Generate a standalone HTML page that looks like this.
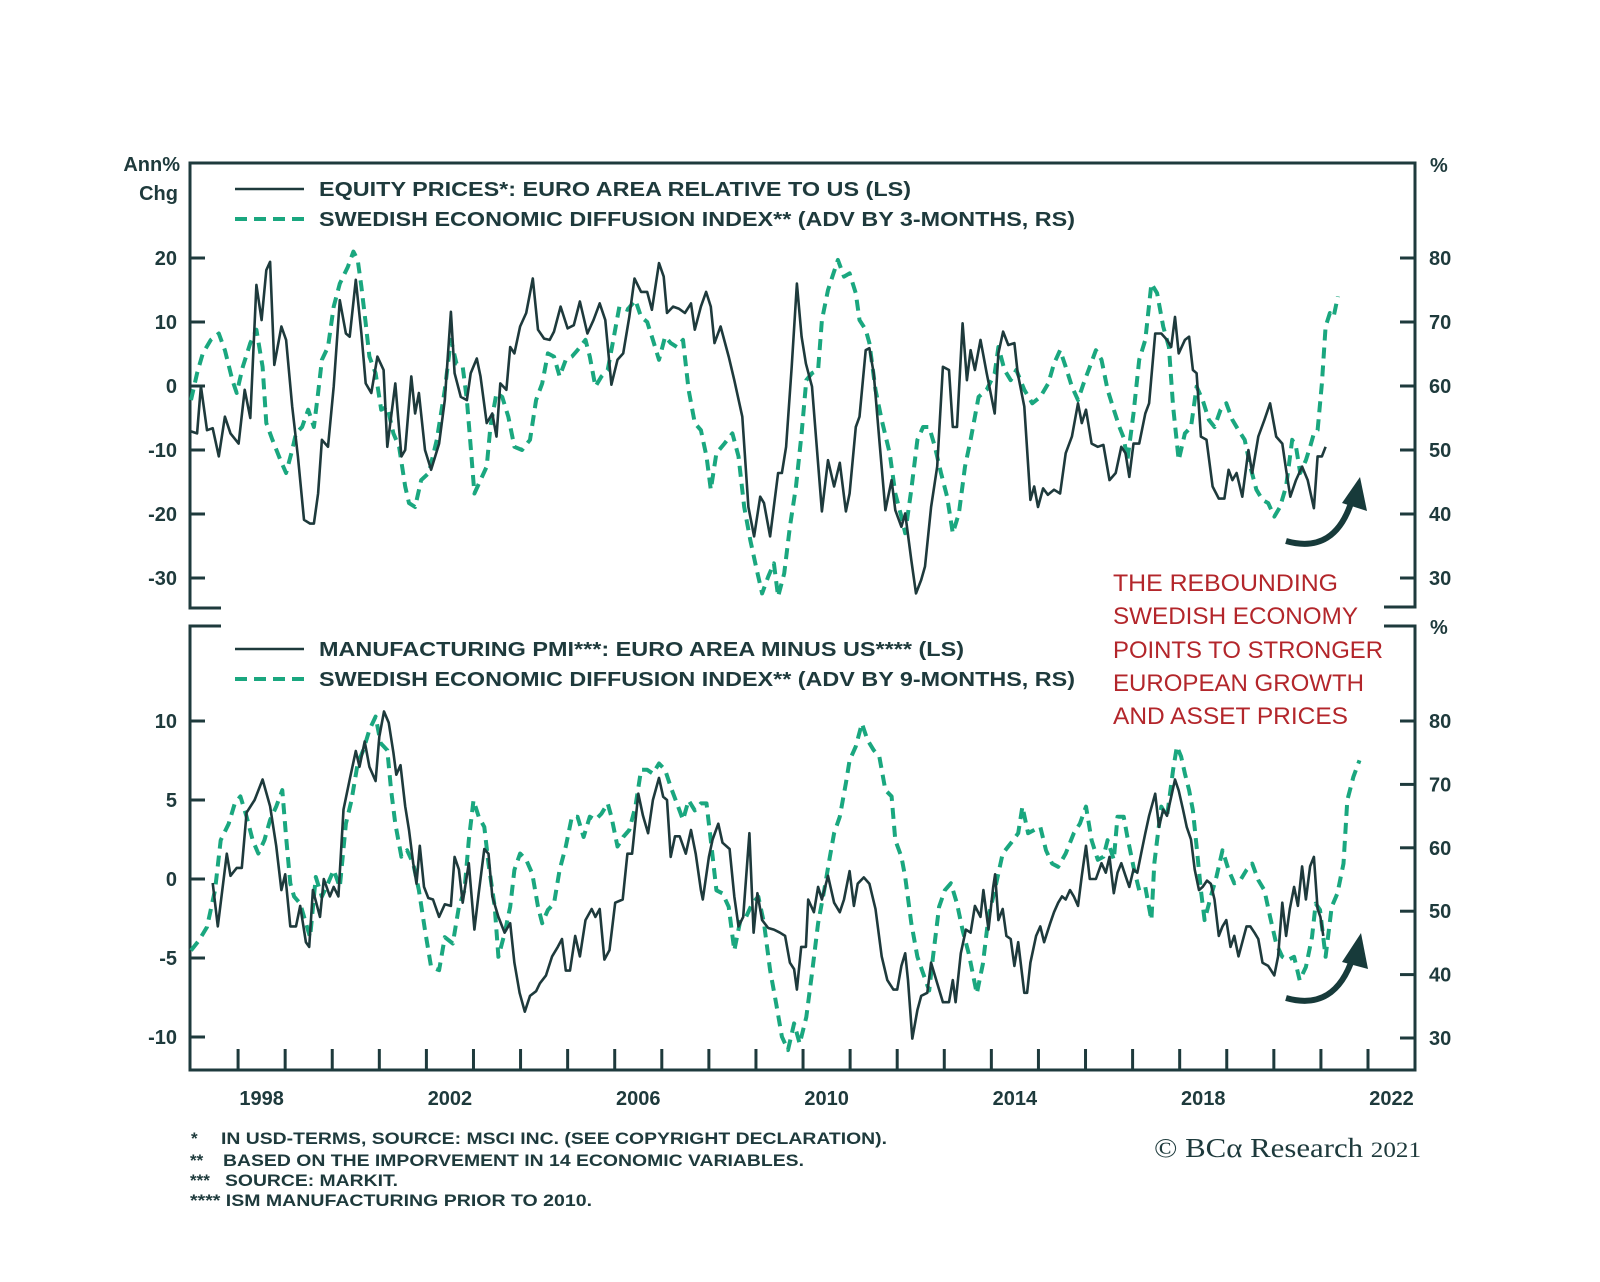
<!DOCTYPE html>
<html><head><meta charset="utf-8"><title>Swedish Economic Diffusion Index vs Euro Area</title>
<style>
html,body{margin:0;padding:0;background:#fff;}
svg{display:block;font-family:"Liberation Sans",Arial,sans-serif;}
.lbl{font-size:20px;font-weight:bold;fill:#1e3a3c;}
.leg{font-size:20px;font-weight:bold;fill:#1e3a3c;}
.note{font-size:17px;font-weight:bold;fill:#1e3a3c;}
.red{font-size:24px;fill:#b3262b;}
</style></head>
<body>
<svg id="chart" width="1600" height="1282" viewBox="0 0 1600 1282" xmlns="http://www.w3.org/2000/svg">
  <rect width="1600" height="1282" fill="#fff"/>
  <g id="frame" stroke="#1e3a3c" stroke-width="3" fill="none">
    <path d="M221,608 L190,608 L190,163 L1415,163 L1415,607 L1384,607"/>
    <path d="M221,626 L190,626 L190,1070 L1415,1070 L1415,626 L1384,626"/>
  </g>
  <g id="ticks"></g>
  <g id="labels"></g>
  <g id="series"></g>

  <text class="lbl" x="180" y="171" text-anchor="end">Ann%</text>
  <text class="lbl" x="178" y="200" text-anchor="end">Chg</text>
  <text class="lbl" x="1430" y="172">%</text>
  <text class="lbl" x="1430" y="634">%</text>

  <g>
    <line x1="235" y1="189" x2="304" y2="189" stroke="#1e3a3c" stroke-width="2.5"/>
    <text class="leg" x="319" y="196" textLength="592" lengthAdjust="spacingAndGlyphs">EQUITY PRICES*: EURO AREA RELATIVE TO US (LS)</text>
    <line x1="235" y1="219" x2="304" y2="219" stroke="#1aa77f" stroke-width="4" stroke-dasharray="12,7"/>
    <text class="leg" x="319" y="226" textLength="756" lengthAdjust="spacingAndGlyphs">SWEDISH ECONOMIC DIFFUSION INDEX** (ADV BY 3-MONTHS, RS)</text>
  </g>
  <g>
    <line x1="235" y1="649" x2="304" y2="649" stroke="#1e3a3c" stroke-width="2.5"/>
    <text class="leg" x="319" y="656" textLength="645" lengthAdjust="spacingAndGlyphs">MANUFACTURING PMI***: EURO AREA MINUS US**** (LS)</text>
    <line x1="235" y1="679" x2="304" y2="679" stroke="#1aa77f" stroke-width="4" stroke-dasharray="12,7"/>
    <text class="leg" x="319" y="686" textLength="756" lengthAdjust="spacingAndGlyphs">SWEDISH ECONOMIC DIFFUSION INDEX** (ADV BY 9-MONTHS, RS)</text>
  </g>

  <g>
    <text class="red" x="1113" y="591" textLength="225" lengthAdjust="spacingAndGlyphs">THE REBOUNDING</text>
    <text class="red" x="1113" y="624" textLength="245" lengthAdjust="spacingAndGlyphs">SWEDISH ECONOMY</text>
    <text class="red" x="1113" y="658" textLength="270" lengthAdjust="spacingAndGlyphs">POINTS TO STRONGER</text>
    <text class="red" x="1113" y="691" textLength="251" lengthAdjust="spacingAndGlyphs">EUROPEAN GROWTH</text>
    <text class="red" x="1113" y="724" textLength="235" lengthAdjust="spacingAndGlyphs">AND ASSET PRICES</text>
  </g>

  <g>
    <path d="M1286,541 Q1335,555 1352,500" stroke="#173a3a" stroke-width="6" fill="none"/>
    <polygon points="1360,477 1342,503 1367,511" fill="#173a3a"/>
  </g>
  <g>
    <path d="M1286,998 Q1335,1012 1353,957" stroke="#173a3a" stroke-width="6" fill="none"/>
    <polygon points="1361,933 1342,962 1368,969" fill="#173a3a"/>
  </g>

  <g>
    <text class="note" x="191" y="1144">*</text>
    <text class="note" x="221" y="1144" textLength="666" lengthAdjust="spacingAndGlyphs">IN USD-TERMS, SOURCE: MSCI INC. (SEE COPYRIGHT DECLARATION).</text>
    <text class="note" x="190" y="1166">**</text>
    <text class="note" x="223" y="1166" textLength="581" lengthAdjust="spacingAndGlyphs">BASED ON THE IMPORVEMENT IN 14 ECONOMIC VARIABLES.</text>
    <text class="note" x="190" y="1186">***</text>
    <text class="note" x="225" y="1186" textLength="173" lengthAdjust="spacingAndGlyphs">SOURCE: MARKIT.</text>
    <text class="note" x="190" y="1206" textLength="402" lengthAdjust="spacingAndGlyphs">**** ISM MANUFACTURING PRIOR TO 2010.</text>
  </g>
  <text x="1154" y="1157" font-family="'Liberation Serif',serif" font-size="27" fill="#1e3a3c" textLength="267" lengthAdjust="spacingAndGlyphs">© BCα Research <tspan font-size="22">2021</tspan></text>
</svg>
<script>
const years = [1998,2002,2006,2010,2014,2018,2022];
const topLeftTicks = [20,10,0,-10,-20,-30];
const topRightTicks = [80,70,60,50,40,30];
const botLeftTicks = [10,5,0,-5,-10];
const botRightTicks = [80,70,60,50,40,30];

const eqDates = [1997.00,1997.13,1997.21,1997.34,1997.46,1997.59,1997.72,1997.84,1998.01,1998.14,
1998.26,1998.39,1998.50,1998.60,1998.68,1998.77,1998.92,1999.02,1999.15,1999.27,
1999.40,1999.53,1999.61,1999.70,1999.78,1999.91,2000.03,2000.16,2000.29,2000.37,
2000.50,2000.62,2000.71,2000.83,2000.96,2001.09,2001.17,2001.34,2001.47,2001.55,
2001.68,2001.76,2001.84,2001.97,2002.10,2002.27,2002.39,2002.52,2002.60,2002.73,
2002.86,2002.94,2003.07,2003.15,2003.28,2003.40,2003.49,2003.57,2003.70,2003.78,
2003.87,2003.99,2004.12,2004.26,2004.37,2004.50,2004.62,2004.71,2004.85,2005.00,
2005.13,2005.26,2005.42,2005.55,2005.68,2005.80,2005.93,2006.06,2006.18,2006.31,
2006.42,2006.56,2006.69,2006.79,2006.94,2007.04,2007.11,2007.24,2007.36,2007.49,
2007.62,2007.70,2007.83,2007.94,2008.04,2008.12,2008.25,2008.42,2008.54,2008.71,
2008.84,2008.96,2009.09,2009.17,2009.30,2009.47,2009.55,2009.64,2009.76,2009.87,
2009.97,2010.06,2010.19,2010.28,2010.40,2010.53,2010.66,2010.78,2010.91,2010.99,
2011.12,2011.20,2011.33,2011.41,2011.50,2011.62,2011.75,2011.88,2011.96,2012.09,
2012.17,2012.30,2012.40,2012.51,2012.59,2012.72,2012.85,2012.97,2013.10,2013.18,
2013.27,2013.39,2013.48,2013.56,2013.65,2013.77,2013.90,2014.07,2014.15,2014.25,
2014.36,2014.49,2014.56,2014.70,2014.83,2014.91,2014.99,2015.10,2015.20,2015.33,
2015.46,2015.58,2015.71,2015.84,2015.92,2016.01,2016.13,2016.26,2016.38,2016.51,
2016.64,2016.76,2016.85,2016.93,2017.02,2017.14,2017.27,2017.35,2017.48,2017.61,
2017.73,2017.82,2017.90,2017.98,2018.11,2018.20,2018.28,2018.36,2018.45,2018.57,
2018.70,2018.83,2018.95,2019.04,2019.12,2019.21,2019.33,2019.46,2019.54,2019.67,
2019.80,2019.92,2020.05,2020.18,2020.26,2020.35,2020.47,2020.60,2020.72,2020.85,
2020.93,2021.02,2021.10];
const eqValues = [-7.1,-7.4,0,-6.9,-6.6,-11,-4.8,-7.4,-9,-0.6,
-5,15.8,10.3,18.1,19.4,3.3,9.3,7.2,-3.2,-11,
-20.9,-21.5,-21.5,-16.8,-8.4,-9.5,-0.1,13.4,8.2,7.7,
16.6,8.2,0.4,-1.1,4.6,2.5,-9.5,0.4,-11,-10,
1.5,-4.3,-1.1,-10,-13.1,-9,-2.2,11.6,2,-1.7,
-2.2,2,4.3,1.5,-5.8,-4.3,-7.9,0.4,-0.6,6.1,
5.1,9.3,11.4,16.8,8.8,7.4,7.2,8.5,12.4,9,
9.5,13.2,8.2,10.3,12.9,10.3,0.2,4.1,5.1,10.8,
16.8,14.7,14.7,11.9,19.2,17.1,11.4,12.4,12.1,11.4,
12.9,8.8,12.4,14.7,12.4,6.7,9.3,4.6,0.9,-4.8,
-18.9,-23.5,-17.3,-18.3,-23.5,-13.6,-13.6,-9.5,3,16,
7.7,3.5,-0.1,-8.4,-19.6,-11.6,-15.7,-12,-19.6,-16.8,
-6.4,-4.8,5.6,5.9,2,-8.4,-19.4,-14.7,-19.4,-22,
-19.9,-27.2,-32.4,-30.3,-28.2,-18.9,-12.6,3,2.5,-6.4,
-6.4,9.8,0.9,5.6,2.5,7.2,2,-4.3,5.1,8.5,
6.4,6.7,2,-3.2,-17.8,-15.7,-18.9,-16,-17,-16.2,
-16.8,-10.5,-7.9,-2.7,-5.8,-3.7,-9,-9.5,-9.2,-14.7,
-13.6,-9.5,-10.5,-14.2,-9,-9,-4.3,-2.7,8.2,8.2,
7.2,6.1,10.8,5.1,7.2,7.7,2.5,2,-7.9,-8.4,
-15.7,-17.6,-17.6,-13.1,-14.7,-13.6,-17.3,-10,-13.6,-7.9,
-5.3,-2.7,-7.9,-9,-13.1,-17.3,-14.7,-12.6,-14.7,-19.1,
-11,-11,-9.5];

const sw3Dates = [1997.00,1997.13,1997.25,1997.42,1997.59,1997.72,1997.88,1997.97,1998.10,1998.26,
1998.39,1998.52,1998.60,1998.73,1998.90,1999.02,1999.15,1999.23,1999.36,1999.49,
1999.61,1999.70,1999.78,1999.91,2000.03,2000.16,2000.33,2000.45,2000.54,2000.62,
2000.71,2000.79,2000.92,2001.04,2001.17,2001.30,2001.42,2001.55,2001.63,2001.76,
2001.89,2002.05,2002.22,2002.39,2002.52,2002.64,2002.77,2002.86,2002.94,2003.02,
2003.15,2003.28,2003.36,2003.49,2003.61,2003.74,2003.87,2004.03,2004.20,2004.33,
2004.46,2004.58,2004.71,2004.83,2004.96,2005.09,2005.21,2005.38,2005.47,2005.59,
2005.72,2005.85,2005.97,2006.10,2006.27,2006.44,2006.56,2006.69,2006.81,2006.94,
2007.07,2007.19,2007.32,2007.45,2007.57,2007.70,2007.83,2007.95,2008.04,2008.16,
2008.33,2008.50,2008.63,2008.75,2008.88,2009.00,2009.13,2009.26,2009.38,2009.47,
2009.60,2009.72,2009.85,2009.97,2010.07,2010.19,2010.32,2010.40,2010.53,2010.74,
2010.87,2010.99,2011.12,2011.20,2011.33,2011.41,2011.54,2011.67,2011.84,2011.96,
2012.09,2012.17,2012.30,2012.43,2012.55,2012.68,2012.80,2012.93,2013.06,2013.18,
2013.31,2013.44,2013.56,2013.73,2013.90,2014.07,2014.15,2014.28,2014.41,2014.53,
2014.70,2014.87,2015.04,2015.21,2015.33,2015.46,2015.58,2015.71,2015.84,2015.96,
2016.09,2016.22,2016.34,2016.47,2016.60,2016.72,2016.81,2016.89,2017.02,2017.14,
2017.27,2017.40,2017.52,2017.65,2017.77,2017.86,2017.98,2018.11,2018.24,2018.36,
2018.49,2018.62,2018.74,2018.87,2018.99,2019.12,2019.25,2019.38,2019.50,2019.63,
2019.76,2019.88,2020.01,2020.13,2020.26,2020.39,2020.47,2020.56,2020.68,2020.77,
2020.85,2020.93,2021.02,2021.10,2021.19,2021.27,2021.36];
const sw3Values = [57.8,62,65.1,67.2,68.2,65.6,60.9,58.9,63,66.7,
68.8,63,54.2,51.6,48.4,46.4,50,52.6,53.6,56.3,
53.6,58.9,64.1,66.1,72.4,76,78.6,81,79.7,75.5,
69.8,64.6,62,56.3,56.8,52.6,50.5,44.3,41.7,41.1,
45.3,46.4,51.6,59.4,67.2,63.5,63,57.8,50.5,43.2,
45.3,47.4,53.6,58.9,58.3,55.2,50.5,50,51.6,57.8,
60.4,65.1,64.6,61.5,64.1,64.6,65.6,67.2,64.6,59.9,
61.5,62.5,67.2,72.4,71.9,73.4,70.8,70,67.2,64.1,
67.7,66.7,66.1,67.2,59.4,54.2,53.1,49,43.8,49.5,
51,52.6,49,41.1,35.9,31.8,27.6,30.2,32.3,27.1,
30.7,38,44.3,52.6,60.9,62,62.5,70.3,75,79.7,
77.1,77.6,74.5,70.3,68.8,66.7,59.4,54.7,49.5,43.2,
39.6,37,43.8,51.6,53.6,53.6,50.5,46.4,42.7,37,
40.1,47.4,51.6,58.3,59.4,62,66.1,62.5,60.9,62.5,
59.4,57.3,58.3,60.4,63.5,65.6,63,59.9,57.8,60.4,
63,65.6,64.1,59.4,56.3,53.6,51.9,48.4,55.7,64.1,
67.2,76,74.5,69.3,66.1,56.8,48.4,52.6,53.6,59.9,
57.8,54.7,53.6,56.3,57.3,54.7,53.1,51.6,47.4,43.8,
42.2,41.7,39.6,41.1,44.3,51.6,50.5,46.4,48.4,50.5,
52.6,53.1,60.4,69.3,71.4,70.8,74];

const pmiDates = [1997.46,1997.57,1997.76,1997.84,1997.97,1998.08,1998.18,1998.35,1998.52,1998.68,
1998.81,1998.92,1999.00,1999.11,1999.23,1999.32,1999.44,1999.51,1999.59,1999.74,
1999.82,1999.95,2000.03,2000.13,2000.24,2000.37,2000.50,2000.58,2000.69,2000.79,
2000.92,2001.00,2001.10,2001.20,2001.30,2001.36,2001.45,2001.55,2001.63,2001.72,
2001.79,2001.86,2001.95,2002.04,2002.14,2002.27,2002.39,2002.52,2002.60,2002.69,
2002.77,2002.90,2003.02,2003.11,2003.23,2003.32,2003.40,2003.53,2003.66,2003.78,
2003.87,2003.98,2004.09,2004.20,2004.33,2004.41,2004.54,2004.67,2004.79,2004.88,
2004.96,2005.05,2005.16,2005.26,2005.38,2005.51,2005.59,2005.68,2005.78,2005.89,
2006.01,2006.17,2006.27,2006.37,2006.50,2006.60,2006.71,2006.81,2006.94,2007.03,
2007.11,2007.19,2007.28,2007.38,2007.51,2007.62,2007.72,2007.83,2007.87,2008.00,
2008.08,2008.20,2008.29,2008.44,2008.54,2008.63,2008.73,2008.86,2008.95,2009.03,
2009.13,2009.26,2009.38,2009.51,2009.62,2009.72,2009.81,2009.87,2009.96,2010.06,
2010.11,2010.23,2010.32,2010.40,2010.53,2010.66,2010.78,2010.87,2010.99,2011.08,
2011.16,2011.29,2011.41,2011.54,2011.67,2011.79,2011.92,2012.00,2012.09,2012.17,
2012.23,2012.32,2012.43,2012.51,2012.64,2012.72,2012.85,2012.97,2013.10,2013.18,
2013.24,2013.35,2013.46,2013.56,2013.65,2013.77,2013.83,2013.94,2014.04,2014.08,
2014.15,2014.24,2014.32,2014.41,2014.49,2014.57,2014.70,2014.76,2014.83,2014.95,
2015.04,2015.12,2015.25,2015.33,2015.42,2015.50,2015.58,2015.67,2015.75,2015.84,
2015.92,2016.01,2016.09,2016.22,2016.34,2016.43,2016.51,2016.60,2016.68,2016.76,
2016.85,2016.93,2017.02,2017.10,2017.18,2017.27,2017.35,2017.48,2017.56,2017.65,
2017.73,2017.82,2017.90,2017.98,2018.07,2018.15,2018.24,2018.32,2018.41,2018.49,
2018.58,2018.66,2018.74,2018.83,2018.91,2018.99,2019.08,2019.16,2019.25,2019.33,
2019.42,2019.50,2019.59,2019.67,2019.76,2019.88,2020.01,2020.09,2020.18,2020.26,
2020.34,2020.43,2020.51,2020.60,2020.68,2020.77,2020.85,2020.93,2020.99,2021.05];
const pmiValues = [-0.25,-3,1.6,0.2,0.7,0.7,4.2,5,6.3,4.6,
2.1,-0.7,0.3,-3,-3,-1.7,-4,-4.3,-0.7,-2.4,
0,-1.1,-0.5,-1.1,4.4,6.3,8.1,7.1,8.7,7.1,
6.2,9,10.6,9.9,8,6.6,7.2,4.6,3.1,1,
-0.3,2.1,-0.5,-1.2,-1.3,-2.4,-1.6,-1.7,1.4,0.6,
-1.5,1,-3.2,-0.9,1.9,1.6,-1.1,-2.4,-3.4,-2.8,
-5.3,-7.2,-8.4,-7.4,-7.1,-6.6,-6.1,-4.9,-4.3,-3.8,
-5.8,-5.8,-3.6,-4.9,-2.6,-1.9,-2.4,-1.9,-5.1,-4.5,
-1.5,-1.3,1.6,1.6,5.4,4,2.9,5,6.4,5.2,
5,1.4,2.7,2.7,1.6,3.1,1.6,-0.7,-1.3,1.4,
2.5,3.5,2.3,1.9,-1.1,-3,-2.4,2.9,-3.4,-0.9,
-2.6,-3.1,-3.2,-3.4,-3.6,-5.3,-5.7,-7,-4.3,-4.3,
-1.3,-2.1,-0.5,-1.3,0.2,-1.5,-2.1,-1.3,0.5,-1.7,
-0.3,0.1,-0.3,-1.9,-4.9,-6.4,-7,-7,-5.5,-4.7,
-6.4,-10.1,-8.3,-7.4,-7.2,-5.3,-6.6,-7.8,-7.8,-6.4,
-7.8,-4.7,-3.2,-3.4,-1.7,-2.4,-0.7,-3.2,-0.5,0.3,
-2.6,-1.9,-3.6,-3.8,-5.5,-4,-7.2,-7.2,-5.3,-3.6,
-3,-4,-2.8,-2.1,-1.5,-1.1,-1.3,-0.7,-1.1,-1.7,
0.2,2.1,0,0,1,0.4,1.4,-0.9,0.4,1,
0.2,-0.5,0.6,0.4,1.6,2.9,4,5.4,3.3,4.4,
4,5.2,6.3,5.6,4.4,3.3,2.5,0.6,-0.7,-0.5,
-0.1,-0.3,-1.3,-3.6,-3,-2.6,-4.3,-3.6,-4.9,-4,
-3,-3,-3.4,-3.8,-5.3,-5.5,-6.1,-4.9,-1.5,-3.6,
-1.9,-0.5,-1.7,0.8,-1.3,0.8,1.4,-1.9,-2.4,-3.6];

const sw9Dates = [1997.00,1997.17,1997.34,1997.51,1997.63,1997.80,1997.93,1998.05,1998.18,1998.31,
1998.43,1998.56,1998.68,1998.81,1998.94,1999.02,1999.11,1999.19,1999.32,1999.44,
1999.53,1999.65,1999.78,1999.91,2000.03,2000.16,2000.29,2000.41,2000.54,2000.66,
2000.79,2000.92,2001.03,2001.17,2001.25,2001.34,2001.47,2001.59,2001.72,2001.84,
2001.97,2002.10,2002.27,2002.39,2002.56,2002.69,2002.81,2002.90,2003.00,2003.11,
2003.23,2003.32,2003.45,2003.53,2003.66,2003.78,2003.87,2003.99,2004.12,2004.25,
2004.37,2004.46,2004.58,2004.71,2004.83,2004.96,2005.09,2005.21,2005.34,2005.47,
2005.59,2005.72,2005.85,2005.93,2006.06,2006.18,2006.31,2006.44,2006.56,2006.69,
2006.81,2006.94,2007.07,2007.19,2007.32,2007.45,2007.57,2007.70,2007.83,2007.95,
2008.04,2008.16,2008.29,2008.42,2008.54,2008.67,2008.79,2008.92,2009.05,2009.17,
2009.30,2009.43,2009.55,2009.68,2009.81,2009.93,2010.07,2010.19,2010.32,2010.45,
2010.57,2010.66,2010.78,2010.91,2010.99,2011.12,2011.25,2011.37,2011.50,2011.62,
2011.75,2011.88,2011.96,2012.09,2012.17,2012.30,2012.43,2012.55,2012.68,2012.76,
2012.89,2013.01,2013.14,2013.27,2013.39,2013.52,2013.69,2013.82,2013.94,2014.07,
2014.24,2014.41,2014.57,2014.66,2014.78,2014.91,2015.04,2015.16,2015.29,2015.42,
2015.58,2015.75,2015.88,2016.01,2016.13,2016.26,2016.38,2016.47,2016.60,2016.68,
2016.81,2016.89,2017.02,2017.14,2017.27,2017.40,2017.46,2017.52,2017.61,2017.73,
2017.86,2017.94,2018.03,2018.11,2018.20,2018.28,2018.36,2018.45,2018.53,2018.66,
2018.78,2018.91,2019.04,2019.16,2019.29,2019.42,2019.54,2019.67,2019.80,2019.92,
2020.05,2020.18,2020.30,2020.43,2020.55,2020.68,2020.81,2020.89,2020.98,2021.10,
2021.23,2021.35,2021.48,2021.56,2021.69,2021.82];
const sw9Values = [43.8,45.4,47.5,53.3,61.2,63.8,67,68.1,64.9,61.2,
59.1,61.2,64.4,66.5,69.1,61.7,54.4,52.3,51.2,48.1,
45.9,55.4,52.3,54.4,56.5,53.8,63.8,67.5,73.3,75.4,
78.6,80.7,76.5,75.4,69.1,63.8,58.6,59.6,57.5,53.3,
47,41.2,40.7,45.9,44.9,50.7,53.3,61.2,67.5,64.9,
63.3,57.5,50.7,42.8,46.5,50.7,56.5,59.1,58.1,55.9,
50.7,48.1,50.2,51.2,56.5,60.2,64.9,64.9,61.7,64.9,
64.4,65.4,67,64.9,60.2,61.7,62.8,66.5,72.3,72.3,
71.7,73.3,72.3,69.6,67,64.4,67.5,65.9,67,67,
61.2,53.3,52.8,50.7,43.8,48.6,49.1,51.2,52.3,48.1,
40.7,35.4,30.2,28.1,32.3,29.1,33.3,40.2,48.1,53.3,
58.6,62.3,64.9,70.2,73.8,76,79.6,77,75.4,74.4,
69.1,68.1,61.2,58.6,55.4,48.1,42.8,40.2,37.5,42.8,
50.7,53.3,54.4,51.2,47,43.3,37,41.7,49.1,53.3,
59.1,60.7,62.3,66.5,62.3,62.8,63.3,59.6,57.5,57,
59.1,62.3,63.8,66.5,61.2,58.1,58.6,61.2,58.1,64.9,
64.9,61.7,57,53.3,53.8,48.6,57.5,61.2,66.5,64.9,
72.3,76,74.4,71.7,69.1,65.9,60.2,53.3,48.6,52.3,
55.4,59.6,56.5,54.4,54.9,56.5,57.5,54.9,53.3,49.1,
44.9,42.8,42.3,42.8,39.1,41.2,45.9,51.2,50.2,42.8,
50.7,52.8,57.5,67.5,71.2,73.8];

const NS = 'http://www.w3.org/2000/svg';
const DARK = '#1e3a3c', GREEN = '#1aa77f';
function xScale(t){ return 191 + (t - 1997) * 47.08; }
function yTopL(v){ return 386 - v * 6.4; }
function yTopR(v){ return 386 - (v - 60) * 6.4; }
function yBotL(v){ return 879 - v * 15.8; }
function yBotR(v){ return 721 + (80 - v) * 6.34; }

const tickG = document.getElementById('ticks');
const labG = document.getElementById('labels');
const serG = document.getElementById('series');

function mk(tag, attrs, parent){
  const el = document.createElementNS(NS, tag);
  for (const k in attrs) el.setAttribute(k, attrs[k]);
  parent.appendChild(el);
  return el;
}
function tick(x1,y1,x2,y2,name){
  const el = mk('line',{x1:x1,y1:y1,x2:x2,y2:y2,stroke:DARK,'stroke-width':3},tickG);
  
  
}
function label(txt,x,y,anchor,name){
  const el = mk('text',{x:x,y:y,'text-anchor':anchor,'class':'lbl'},labG);
  el.textContent = txt;
  
  
}

topLeftTicks.forEach(v=>{ const y=yTopL(v); tick(190,y,205,y,'top-left-tick'); label(String(v),177,y+7,'end','top-left-tick-label'); });
topRightTicks.forEach(v=>{ const y=yTopR(v); tick(1400,y,1415,y,'top-right-tick'); label(String(v),1429,y+7,'start','top-right-tick-label'); });
botLeftTicks.forEach(v=>{ const y=yBotL(v); tick(190,y,205,y,'bottom-left-tick'); label(String(v),177,y+7,'end','bottom-left-tick-label'); });
botRightTicks.forEach(v=>{ const y=yBotR(v); tick(1400,y,1415,y,'bottom-right-tick'); label(String(v),1429,y+7,'start','bottom-right-tick-label'); });
for (let yr = 1998; yr <= 2022; yr++){ const x = xScale(yr); tick(x,1049,x,1070,'x-axis-tick'); }
years.forEach(yr=>{ label(String(yr), xScale(yr+0.5), 1105, 'middle', 'x-axis-year-label'); });

function series(dates, values, yf, dashed, name){
  let d = '';
  for (let i=0;i<dates.length;i++){
    d += (i? 'L':'M') + xScale(dates[i]).toFixed(1) + ',' + yf(values[i]).toFixed(1);
  }
  const attrs = {d:d, fill:'none', stroke: dashed?GREEN:DARK, 'stroke-width': dashed?4:2.6, 'stroke-linejoin':'round'};
  if (dashed) attrs['stroke-dasharray'] = '11,7';
  const el = mk('path', attrs, serG);
  
  
}
series(sw3Dates, sw3Values, yTopR, true, 'swedish-index-3m-line');
series(eqDates, eqValues, yTopL, false, 'equity-relative-line');
series(sw9Dates, sw9Values, yBotR, true, 'swedish-index-9m-line');
series(pmiDates, pmiValues, yBotL, false, 'pmi-difference-line');
</script>
</body></html>
